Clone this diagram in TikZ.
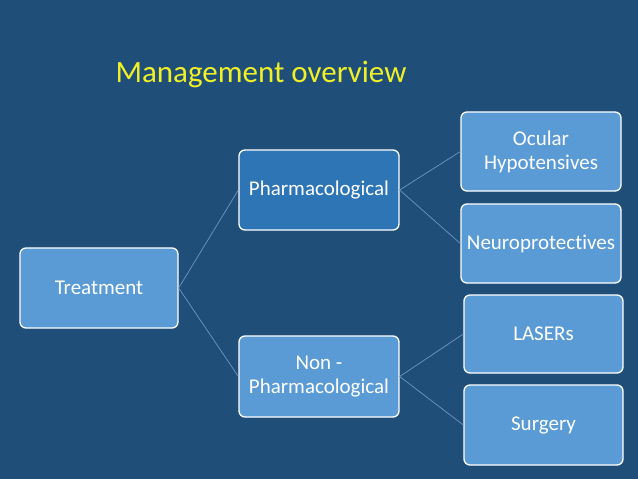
\documentclass[tikz,border=0pt]{standalone}
\usepackage{fontspec}
\setmainfont[Ligatures=NoCommon]{Carlito}
\definecolor{bgblue}{RGB}{31,78,121}
\definecolor{lightbox}{RGB}{91,155,213}
\definecolor{darkbox}{RGB}{46,117,182}
\definecolor{linkcol}{RGB}{110,150,195}
\definecolor{titleyellow}{RGB}{240,240,40}
\begin{document}
\begin{tikzpicture}[x=1pt,y=-1pt,
  box/.style={draw=white, line width=1.3pt, rounded corners=6pt, fill=lightbox,
    text=white, align=center, font=\fontsize{21}{24}\selectfont, inner sep=0pt},
  dbox/.style={box, fill=darkbox},
  link/.style={draw=linkcol, line width=0.7pt}]
\fill[bgblue] (0,0) rectangle (638,479);
\useasboundingbox (0,0) rectangle (638,479);
\node[anchor=base, text=titleyellow, font=\fontsize{31}{36}\selectfont] (title) at (261,82) {Management overview};
\node[box, minimum width=158pt, minimum height=80pt] (treat) at (99,288) {Treatment};
\node[dbox, minimum width=160pt, minimum height=80pt] (pharm) at (319,190) {Pharmacological};
\node[box, minimum width=160pt, minimum height=81pt] (nonpharm) at (319,376.5) {Non -\\Pharmacological};
\node[box, minimum width=160pt, minimum height=79pt] (ocular) at (541,151.5) {Ocular\\Hypotensives};
\node[box, minimum width=160pt, minimum height=79pt] (neuro) at (541,243.5) {Neuroprotectives};
\node[box, minimum width=159pt, minimum height=78pt] (laser) at (543.5,334) {LASERs};
\node[box, minimum width=159pt, minimum height=80pt] (surg) at (543.5,425) {Surgery};
\draw[link] (treat.east) -- (pharm.west);
\draw[link] (treat.east) -- (nonpharm.west);
\draw[link] (pharm.east) -- (ocular.west);
\draw[link] (pharm.east) -- (neuro.west);
\draw[link] (nonpharm.east) -- (laser.west);
\draw[link] (nonpharm.east) -- (surg.west);
\end{tikzpicture}
\end{document}
